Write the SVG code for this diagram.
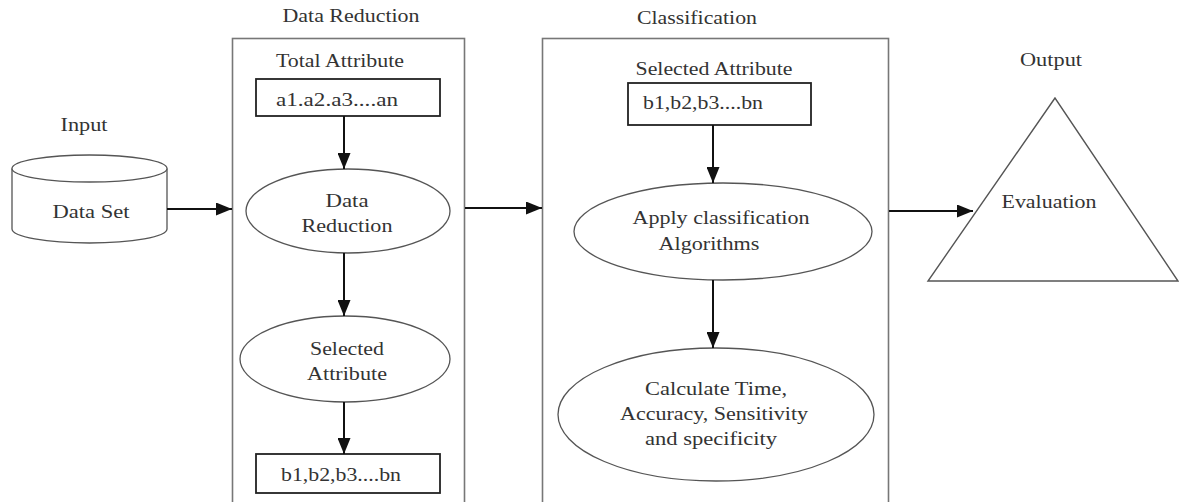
<svg xmlns="http://www.w3.org/2000/svg" width="1179" height="502" viewBox="0 0 1179 502">
<defs>
<style>
text{font-family:"Liberation Serif","Times New Roman",serif;font-size:18px;fill:#333;text-anchor:middle}
.panel{fill:none;stroke:#777;stroke-width:1.6}
.box{fill:#fff;stroke:#222;stroke-width:1.8}
.ell{fill:#fff;stroke:#555;stroke-width:1.3}
.conn{stroke:#111;stroke-width:2;fill:none;marker-end:url(#ah)}
</style>
<marker id="ah" markerUnits="userSpaceOnUse" markerWidth="17" markerHeight="13" refX="16" refY="6.5" orient="auto">
<path d="M0,0 L16,6.5 L0,13 z" fill="#111"/>
</marker>
</defs>
<rect width="1179" height="502" fill="#fff"/>

<g id="input">
<text x="84" y="131" textLength="47" lengthAdjust="spacingAndGlyphs">Input</text>
<path class="ell" d="M12,168.5 L12,229 A77.5,14 0 0 0 167,229 L167,168.5" stroke="#444"/>
<ellipse class="ell" cx="89.5" cy="168.5" rx="77.5" ry="13.5" stroke="#444"/>
<text x="91" y="218" textLength="77" lengthAdjust="spacingAndGlyphs">Data Set</text>
</g>

<g id="data-reduction-panel">
<text x="351" y="22" textLength="137" lengthAdjust="spacingAndGlyphs">Data Reduction</text>
<rect class="panel" x="232.5" y="38.5" width="232" height="475"/>
<text x="340" y="67" textLength="128" lengthAdjust="spacingAndGlyphs">Total Attribute</text>
</g>

<g id="total-attr-box">
<rect class="box" x="256" y="79" width="184" height="37"/>
<text x="337" y="106" textLength="122" lengthAdjust="spacingAndGlyphs">a1.a2.a3....an</text>
</g>

<g id="data-reduction">
<ellipse class="ell" cx="348" cy="211" rx="102" ry="42"/>
<text x="347" y="207" textLength="43" lengthAdjust="spacingAndGlyphs">Data</text>
<text x="347" y="232" textLength="91" lengthAdjust="spacingAndGlyphs">Reduction</text>
</g>

<g id="selected-attribute">
<ellipse class="ell" cx="345" cy="359" rx="105" ry="43"/>
<text x="347" y="355" textLength="74" lengthAdjust="spacingAndGlyphs">Selected</text>
<text x="347" y="380" textLength="80" lengthAdjust="spacingAndGlyphs">Attribute</text>
</g>

<g id="reduced-box">
<rect class="box" x="256" y="454" width="184" height="39"/>
<text x="341" y="481" textLength="120" lengthAdjust="spacingAndGlyphs">b1,b2,b3....bn</text>
</g>

<g id="classification-panel">
<text x="697" y="24" textLength="120" lengthAdjust="spacingAndGlyphs">Classification</text>
<rect class="panel" x="542.5" y="38.5" width="346" height="475"/>
<text x="714" y="75" textLength="157" lengthAdjust="spacingAndGlyphs">Selected Attribute</text>
</g>

<g id="selected-box">
<rect class="box" x="628" y="83" width="183" height="42"/>
<text x="703" y="109" textLength="120" lengthAdjust="spacingAndGlyphs">b1,b2,b3....bn</text>
</g>

<g id="apply-classification">
<ellipse class="ell" cx="723" cy="231.5" rx="149" ry="48.5"/>
<text x="721" y="224" textLength="177" lengthAdjust="spacingAndGlyphs">Apply classification</text>
<text x="709" y="250" textLength="101" lengthAdjust="spacingAndGlyphs">Algorithms</text>
</g>

<g id="calculate">
<ellipse class="ell" cx="716" cy="414.5" rx="158" ry="66.5"/>
<text x="716" y="395" textLength="142" lengthAdjust="spacingAndGlyphs">Calculate Time,</text>
<text x="714" y="420" textLength="188" lengthAdjust="spacingAndGlyphs">Accuracy, Sensitivity</text>
<text x="711" y="445" textLength="132" lengthAdjust="spacingAndGlyphs">and specificity</text>
</g>

<g id="output">
<text x="1051" y="66" textLength="62" lengthAdjust="spacingAndGlyphs">Output</text>
<polygon points="1055,98 928,281 1178,281" fill="#fff" stroke="#555" stroke-width="1.4"/>
<text x="1049" y="208" textLength="95" lengthAdjust="spacingAndGlyphs">Evaluation</text>
</g>

<g id="connectors">
<line class="conn" x1="167" y1="209" x2="232" y2="209"/>
<line class="conn" x1="344" y1="116" x2="344" y2="169"/>
<line class="conn" x1="344" y1="253" x2="344" y2="316"/>
<line class="conn" x1="344" y1="402" x2="344" y2="454"/>
<line class="conn" x1="465" y1="208" x2="542" y2="208"/>
<line class="conn" x1="713" y1="125" x2="713" y2="183"/>
<line class="conn" x1="713" y1="280" x2="713" y2="348"/>
<line class="conn" x1="889" y1="211" x2="973" y2="211"/>
</g>
</svg>
